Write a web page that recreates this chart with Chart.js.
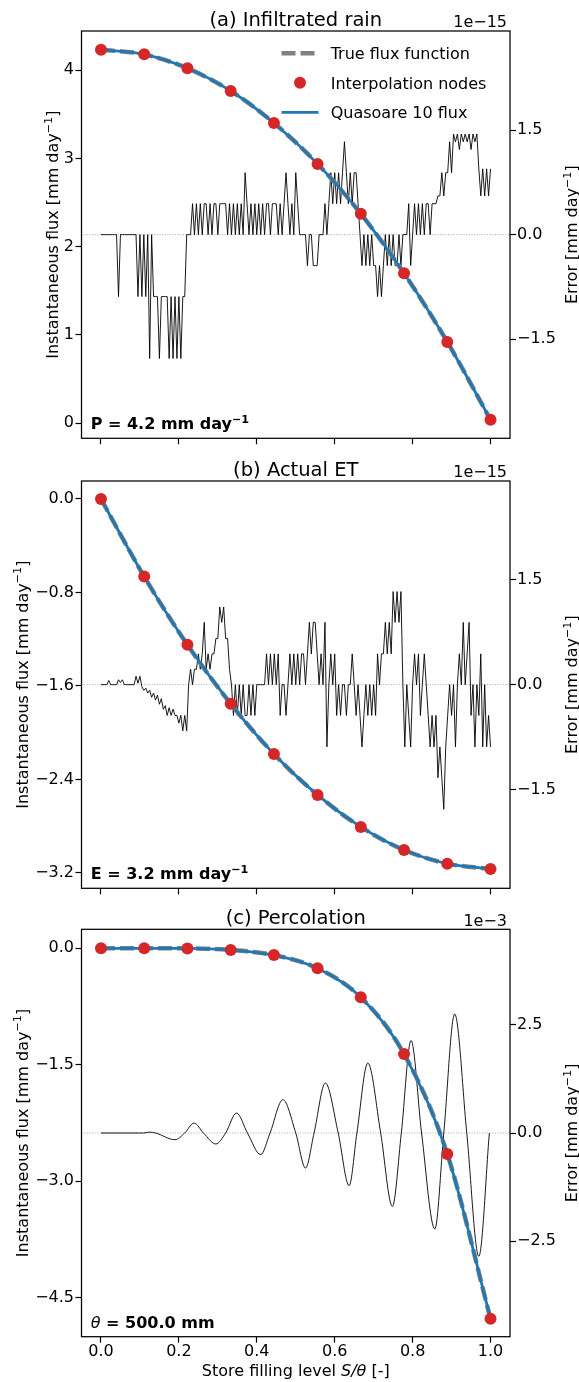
<!DOCTYPE html>
<html>
<head>
<meta charset="utf-8">
<script src="https://cdn.jsdelivr.net/npm/chart.js@4.4.1/dist/chart.umd.min.js"></script>
<style>
  body { margin: 0; background: #fff; }
  canvas { display: block; }
</style>
</head>
<body>
<canvas id="panelA" width="579" height="450"></canvas>
<canvas id="panelB" width="579" height="450"></canvas>
<canvas id="panelC" width="579" height="482"></canvas>
<script>
const FONT = "'DejaVu Sans', sans-serif";

// interpolation nodes (store filling level S/theta)
const nodeLevel = [0, 0.111, 0.222, 0.333, 0.444, 0.556, 0.667, 0.778, 0.889, 1.0];
const fluxRain = [4.234, 4.181, 4.023, 3.766, 3.403, 2.939, 2.373, 1.698, 0.920, 0.037];
const fluxET = [0, -0.664, -1.248, -1.752, -2.182, -2.532, -2.806, -3.003, -3.120, -3.165];
const fluxPerc = [0, 0, -0.001, -0.022, -0.087, -0.257, -0.631, -1.36, -2.649, -4.771];

const xTicks = [0, 0.2, 0.4, 0.6, 0.8, 1.0];
const rainTicks = [0, 1, 2, 3, 4];
const etTicks = [-3.2, -2.4, -1.6, -0.8, 0];
const percTicks = [-4.5, -3.0, -1.5, 0];
const errTicksSmall = [-1.5, 0, 1.5];
const errTicksPerc = [-2.5, 0, 2.5];

// error series (x1e-15), read every 0.005 of S/theta
const errStep = 0.005;
const errRain = [
  0, 0, 0, 0, 0, 0, 0, 0, 0, -0.888,
  0, 0, 0, 0, 0, 0, 0, 0, 0, -0.888,
  0, -0.888, 0, -0.888, 0, -1.776, 0, -0.888, -0.888, -0.888,
  -1.776, -0.888, -0.888, -0.888, -0.888, -1.776, -0.888, -1.776, -0.888, -1.776,
  -0.888, -1.776, -0.888, -0.888, 0, 0, 0, 0.444, 0, 0.444,
  0, 0.444, 0, 0.444, 0.444, 0, 0.444, 0, 0.444, 0.444,
  0, 0.444, 0.444, 0.444, 0.444, 0, 0.444, 0, 0.444, 0,
  0.444, 0, 0.444, 0, 0.888, 0.444, 0, 0.444, 0, 0.444,
  0, 0.444, 0, 0.444, 0, 0.444, 0.444, 0, 0.444, 0.444,
  0.444, 0, 0.444, 0, 0.444, 0.888, 0.444, 0, 0.444, 0,
  0.888, 0.444, 0, 0, 0, 0, -0.444, 0, 0, -0.444,
  -0.444, -0.444, 0, 0, 0, 0.444, 0, 0.444, 0.888, 0.444,
  0.888, 0.444, 0.888, 0.444, 0.888, 1.332, 0.888, 0.444, 0.888, 0.444,
  0.888, 0.888, 0.444, 0, -0.444, 0, -0.444, 0, -0.444, 0,
  -0.444, -0.444, -0.888, -0.444, -0.888, -0.444, 0, -0.444, 0, -0.444,
  0, -0.444, -0.444, 0, -0.444, 0, 0, 0, 0.444, -0.444,
  0, 0.444, 0, 0.444, 0, 0.444, 0, 0.444, 0.444, 0,
  0.444, 0.444, 0.444, 0.555, 0.555, 0.888, 0.555, 0.888, 0.888, 1.332,
  0.888, 1.443, 1.332, 1.443, 1.221, 1.443, 1.332, 1.443, 1.332, 1.443,
  1.221, 1.443, 1.332, 1.443, 0.944, 0.555, 0.944, 0.555, 0.944, 0.555,
  0.944
];
const errET = [
  0, 0, 0, 0, 0.06, 0, 0, 0, 0, 0.07,
  0.03, 0.07, 0, 0, 0, 0, 0, 0, 0.12, 0.02,
  0.12, -0.03, -0.08, -0.05, -0.12, -0.08, -0.18, -0.12, -0.22, -0.15,
  -0.28, -0.2, -0.35, -0.3, -0.44, -0.33, -0.44, -0.35, -0.44, -0.44,
  -0.55, -0.44, -0.66, -0.44, -0.66, 0, 0.22, 0, 0.22, 0.22,
  0.44, 0.22, 0.44, 0.89, 0.22, 0.44, 0.22, 0.44, 0.44, 0.66,
  0.66, 1.11, 0.89, 1.11, 0.66, 0.66, 0.22, 0, -0.44, 0,
  -0.44, 0, -0.44, 0, -0.44, -0.44, 0, -0.44, 0, -0.44,
  0, 0, 0, 0, 0, 0.44, 0, 0.44, 0, 0.44,
  0, 0.44, -0.44, 0, 0, -0.44, 0, 0.44, 0, 0.44,
  0, 0.44, 0, 0.44, 0.44, 0, 0.44, 0.89, 0.44, 0.89,
  0.89, 0.44, 0, 0.44, 0, 0.89, -0.89, 0, 0.44, 0,
  0.44, -0.44, 0, -0.44, 0, 0, -0.44, 0, 0, 0.44,
  0, -0.44, 0, -0.44, -0.89, -0.44, 0, -0.44, 0, -0.44,
  0, -0.44, 0.44, 0, 0.44, 0.44, 0.89, 0.44, 0.89, 0.44,
  1.33, 0.89, 1.33, 0.89, 1.33, 0, -0.89, 0, -0.44, -0.89,
  0, 0.44, 0, 0.44, -0.44, 0, 0.44, 0, -0.44, -0.89,
  -0.44, -0.89, -0.44, -1.33, -0.89, -1.33, -1.78, -0.89, -0.44, 0,
  -0.44, 0, -0.89, 0, 0.44, 0, 0.89, 0, 0.44, 0.89,
  -0.44, 0, -0.89, 0, -0.44, 0.44, -0.89, 0, -0.89, -0.44,
  -0.89
];
// percolation error (x1e-3): zero crossings and extremes
const percErrLevel = [0, 0.1, 0.11, 0.125, 0.14, 0.19, 0.215, 0.239, 0.263, 0.295, 0.32, 0.348,
  0.376, 0.41, 0.434, 0.467, 0.5, 0.525, 0.547, 0.576, 0.609, 0.637, 0.657, 0.685, 0.718,
  0.748, 0.771, 0.796, 0.823, 0.857, 0.88, 0.908, 0.939, 0.97, 0.997];
const percErr = [0, 0, 0, 0.02, 0, -0.155, 0, 0.23, 0, -0.254, 0, 0.462,
  0, -0.5, 0, 0.77, 0, -0.81, 0, 1.156, 0, -1.218, 0, 1.618, 0,
  -1.697, 0, 2.14, 0, -2.219, 0, 2.75, 0, -2.852, 0];

function pts(xs, ys) { return xs.map((x, i) => ({ x: x, y: ys[i] })); }
function gridPts(ys) { return ys.map((y, i) => ({ x: i * errStep, y: y })); }
const minus = s => s.replace('-', '\u2212');

function rich(ctx, parts, x, y, center, rotate) {
  let w = 0;
  parts.forEach(p => { ctx.font = p[1]; w += ctx.measureText(p[0]).width; });
  ctx.save();
  ctx.translate(x, y);
  if (rotate) ctx.rotate(-Math.PI / 2);
  let cx = center ? -w / 2 : 0;
  ctx.textAlign = 'left';
  ctx.textBaseline = 'alphabetic';
  ctx.fillStyle = '#000';
  parts.forEach(p => {
    ctx.font = p[1];
    ctx.fillText(p[0], cx, -(p[2] || 0));
    cx += ctx.measureText(p[0]).width;
  });
  ctx.restore();
}

function flux16(txt) {
  return [[txt, '16px ' + FONT, 0], ['\u22121', '11.2px ' + FONT, 6.5], [']', '16px ' + FONT, 0]];
}

function makePanel(id, o) {
  const deco = {
    id: 'deco' + id,
    beforeDatasetsDraw(chart) {
      const ctx = chart.ctx, a = chart.chartArea;
      const y0 = chart.scales.yR.getPixelForValue(0);
      ctx.save();
      ctx.strokeStyle = 'rgba(120,120,120,0.8)';
      ctx.lineWidth = 0.8;
      ctx.setLineDash([1, 1.6]);
      ctx.beginPath();
      ctx.moveTo(a.left, y0);
      ctx.lineTo(a.right, y0);
      ctx.stroke();
      ctx.restore();
    },
    afterDraw(chart) {
      const ctx = chart.ctx, a = chart.chartArea;
      ctx.save();
      ctx.strokeStyle = '#000';
      ctx.lineWidth = 1.25;
      ctx.strokeRect(a.left, a.top, a.right - a.left, a.bottom - a.top);
      ctx.restore();

      const mid = (a.left + a.right) / 2;
      rich(ctx, [[o.title, '19.5px ' + FONT, 0]], mid, o.titleY, true, false);
      ctx.save();
      ctx.font = '16px ' + FONT;
      ctx.fillStyle = '#000';
      ctx.textAlign = 'right';
      ctx.fillText(o.offset, 507, o.titleY + 1.5);
      ctx.restore();

      rich(ctx, o.note, 90.7, o.noteY, false, false);

      const ymid = (a.top + a.bottom) / 2;
      rich(ctx, flux16('Instantaneous flux [mm day'), o.ylabX, ymid, true, true);
      rich(ctx, flux16('Error [mm day'), 577, ymid, true, true);

      if (o.xlabel) {
        rich(ctx, [['Store filling level ', '16px ' + FONT, 0], ['S/\u03b8', 'italic 16px ' + FONT, 0], [' [-]', '16px ' + FONT, 0]],
          mid, 476, true, false);
      }

      if (o.legend) {
        const x0 = 281.5, x1 = 318.5, tx = 330.7;
        const rows = [53.3, 82.7, 112.3];
        ctx.save();
        ctx.lineCap = 'butt';
        ctx.strokeStyle = '#808080';
        ctx.lineWidth = 4.5;
        ctx.setLineDash([14, 5]);
        ctx.beginPath(); ctx.moveTo(x0, rows[0]); ctx.lineTo(x1, rows[0]); ctx.stroke();
        ctx.setLineDash([]);
        ctx.fillStyle = '#d62728';
        ctx.beginPath(); ctx.arc((x0 + x1) / 2, rows[1], 6, 0, Math.PI * 2); ctx.fill();
        ctx.strokeStyle = '#1f77b4';
        ctx.lineWidth = 2.8;
        ctx.beginPath(); ctx.moveTo(x0, rows[2]); ctx.lineTo(x1, rows[2]); ctx.stroke();
        ctx.fillStyle = '#000';
        ctx.font = '16px ' + FONT;
        ctx.textAlign = 'left';
        ctx.textBaseline = 'alphabetic';
        ctx.fillText('True flux function', tx, rows[0] + 6);
        ctx.fillText('Interpolation nodes', tx, rows[1] + 6);
        ctx.fillText('Quasoare 10 flux', tx, rows[2] + 6);
        ctx.restore();
      }
    }
  };

  const tickGrid = { drawOnChartArea: false, drawTicks: true, tickLength: 6, tickColor: '#000', tickWidth: 1.2, color: '#000' };
  const tickFont = { family: FONT, size: 16 };

  new Chart(document.getElementById(id), {
    type: 'line',
    data: {
      datasets: [
        {
          label: 'Error', data: o.err, yAxisID: 'yR', borderColor: '#000', borderWidth: 0.9,
          pointRadius: 0, cubicInterpolationMode: o.errSmooth ? 'monotone' : 'default', tension: 0, order: 4
        },
        {
          label: 'True flux function', data: pts(nodeLevel, o.flux), yAxisID: 'y', borderColor: '#808080',
          borderWidth: 4.5, borderDash: [14, 5], pointRadius: 0, cubicInterpolationMode: 'monotone', order: 3
        },
        {
          label: 'Quasoare 10 flux', data: pts(nodeLevel, o.flux), yAxisID: 'y', borderColor: '#1f77b4',
          borderWidth: 2.8, pointRadius: 0, cubicInterpolationMode: 'monotone', order: 2
        },
        {
          label: 'Interpolation nodes', data: pts(nodeLevel, o.flux), yAxisID: 'y', showLine: false,
          pointRadius: 6, pointBackgroundColor: '#d62728', pointBorderColor: '#d62728', pointBorderWidth: 0, order: 1
        }
      ]
    },
    options: {
      responsive: false,
      animation: false,
      events: [],
      layout: { padding: { top: o.top, left: 0, right: 0, bottom: 0 } },
      plugins: { legend: { display: false }, tooltip: { enabled: false } },
      scales: {
        x: {
          type: 'linear', min: -0.05, max: 1.05,
          afterBuildTicks: s => { s.ticks = xTicks.map(v => ({ value: v })); },
          ticks: { display: o.xlabel, autoSkip: false, maxRotation: 0, padding: 0, color: '#000', font: tickFont,
            callback: v => v.toFixed(1) },
          grid: tickGrid, border: { display: false },
          afterFit: s => { s.height = o.xh; }
        },
        y: {
          position: 'left', min: o.yMin, max: o.yMax,
          afterBuildTicks: s => { s.ticks = o.yTicks.map(v => ({ value: v })); },
          ticks: { autoSkip: false, padding: 1.5, color: '#000', font: tickFont, callback: o.yFmt },
          grid: tickGrid, border: { display: false },
          afterFit: s => { s.width = 81.5; }
        },
        yR: {
          position: 'right', min: o.eMin, max: o.eMax,
          afterBuildTicks: s => { s.ticks = o.eTicks.map(v => ({ value: v })); },
          ticks: { autoSkip: false, padding: 1, color: '#000', font: tickFont, callback: v => minus(v.toFixed(1)) },
          grid: tickGrid, border: { display: false },
          afterFit: s => { s.width = 69; }
        }
      }
    },
    plugins: [deco]
  });
}

makePanel('panelA', {
  title: '(a) Infiltrated rain', titleY: 25.8, offset: '1e\u221215', top: 31, xh: 11.7, xlabel: false, legend: true,
  flux: fluxRain, yMin: -0.173, yMax: 4.446, yTicks: rainTicks, yFmt: v => String(v),
  err: gridPts(errRain), eMin: -2.92, eMax: 2.92, eTicks: errTicksSmall, ylabX: 58,
  note: [['P = 4.2 mm day', 'bold 16px ' + FONT, 0], ['\u22121', 'bold 11.2px ' + FONT, 6.5]], noteY: 429.3
});
makePanel('panelB', {
  title: '(b) Actual ET', titleY: 25.8, offset: '1e\u221215', top: 31, xh: 11.7, xlabel: false, legend: false,
  flux: fluxET, yMin: -3.331, yMax: 0.154, yTicks: etTicks, yFmt: v => minus(v.toFixed(1)),
  err: gridPts(errET), eMin: -2.91, eMax: 2.91, eTicks: errTicksSmall, ylabX: 27.5,
  note: [['E = 3.2 mm day', 'bold 16px ' + FONT, 0], ['\u22121', 'bold 11.2px ' + FONT, 6.5]], noteY: 429.3
});
makePanel('panelC', {
  title: '(c) Percolation', titleY: 24.1, offset: '1e\u22123', top: 29.3, xh: 45.3, xlabel: true, legend: false,
  flux: fluxPerc, yMin: -5.002, yMax: 0.245, yTicks: percTicks, yFmt: v => minus(v.toFixed(1)),
  err: pts(percErrLevel, percErr), errSmooth: true, eMin: -4.71, eMax: 4.71, eTicks: errTicksPerc, ylabX: 27.5,
  note: [['\u03b8', 'italic 16px ' + FONT, 0], [' = 500.0 mm', 'bold 16px ' + FONT, 0]], noteY: 428.3
});
</script>
</body>
</html>
